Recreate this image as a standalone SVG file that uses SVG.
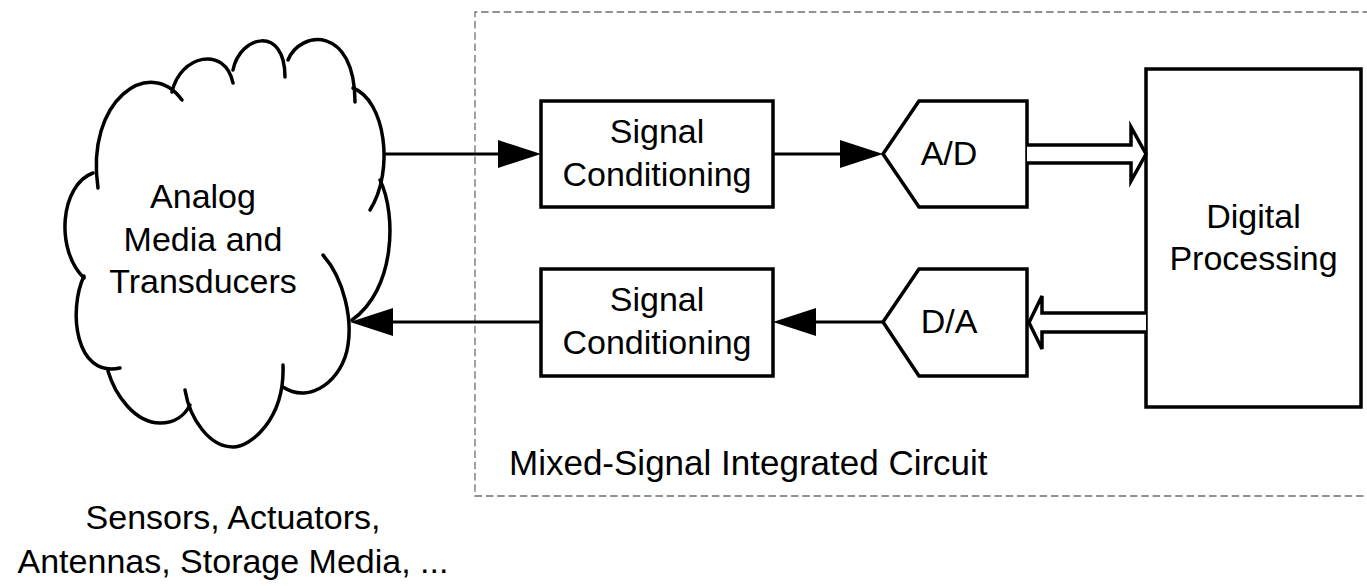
<svg xmlns="http://www.w3.org/2000/svg" width="1367" height="586" viewBox="0 0 1367 586">
  <style>
    .lbl { font-family: "Liberation Sans", Arial, sans-serif; font-size: 34px; fill: #000; }
    .mid { text-anchor: middle; }
    .box { fill: #fff; stroke: #000; stroke-width: 3.5; stroke-linejoin: miter; }
    .lobe { fill: none; stroke: #000; stroke-width: 3.5; stroke-linecap: round; }
    .wire { fill: none; stroke: #000; stroke-width: 3; }
    .bus { fill: #fff; stroke: #000; stroke-width: 3.5; stroke-linejoin: miter; }
    .frame { fill: none; stroke: #6e6e6e; stroke-width: 1.3; stroke-dasharray: 7.5 3.8; }
  </style>
  <defs>
    <!-- solid head; the wire stops at the base of the head -->
    <marker id="head" viewBox="0 0 43 28" refX="0" refY="14" markerWidth="43" markerHeight="28" markerUnits="userSpaceOnUse" orient="auto">
      <path d="M0,0 L43,14 L0,28 z" fill="#000"/>
    </marker>
  </defs>

  <rect width="1367" height="586" fill="#fff"/>

  <!-- chip boundary -->
  <g id="chip">
    <path class="frame" d="M1370 12 H475 V496 H1370"/>
    <text class="lbl" x="509" y="475" style="font-size:35px">Mixed-Signal Integrated Circuit</text>
  </g>

  <!-- cloud -->
  <g id="analog-media">
    <path class="lobe" d="M93 173 C60 185, 55 250, 84 278"/>
    <path class="lobe" d="M98 188 C85 100, 150 55, 182 100"/>
    <path class="lobe" d="M172 92 C180 55, 225 45, 233 83"/>
    <path class="lobe" d="M233 70 C240 35, 285 25, 285 77"/>
    <path class="lobe" d="M288 60 C300 30, 355 25, 355 102"/>
    <path class="lobe" d="M353 88 C385 100, 395 170, 370 210"/>
    <path class="lobe" d="M380 180 C397 215, 395 290, 352 320"/>
    <path class="lobe" d="M323 255 C345 280, 352 320, 348 345 C343 380, 310 405, 283 387"/>
    <path class="lobe" d="M283 365 C285 420, 250 447, 233 447 C210 447, 190 420, 185 390"/>
    <path class="lobe" d="M108 371 C115 395, 135 423, 160 423 C175 423, 185 415, 190 405"/>
    <path class="lobe" d="M84 276 C68 310, 75 378, 120 368"/>
    <text class="lbl mid" x="203" y="208">Analog</text>
    <text class="lbl mid" x="203" y="251">Media and</text>
    <text class="lbl mid" x="203" y="293">Transducers</text>
  </g>

  <g id="media-caption">
    <text class="lbl mid" x="233" y="529">Sensors, Actuators,</text>
    <text class="lbl mid" x="233" y="573">Antennas, Storage Media, ...</text>
  </g>

  <g id="sc-in">
    <rect class="box" x="541" y="101" width="232" height="106"/>
    <text class="lbl mid" x="657" y="143">Signal</text>
    <text class="lbl mid" x="657" y="186">Conditioning</text>
  </g>

  <g id="sc-out">
    <rect class="box" x="541" y="269" width="232" height="107"/>
    <text class="lbl mid" x="657" y="311">Signal</text>
    <text class="lbl mid" x="657" y="354">Conditioning</text>
  </g>

  <g id="adc">
    <polygon class="box" points="883,154 919,101 1027,101 1027,207 919,207"/>
    <text class="lbl mid" x="949" y="165">A/D</text>
  </g>

  <g id="dac">
    <polygon class="box" points="883,322 919,269 1027,269 1027,376 919,376"/>
    <text class="lbl mid" x="949" y="333">D/A</text>
  </g>

  <g id="dsp">
    <rect class="box" x="1146" y="69" width="215" height="338"/>
    <text class="lbl mid" x="1253.5" y="228">Digital</text>
    <text class="lbl mid" x="1253.5" y="270">Processing</text>
  </g>

  <!-- connectors -->
  <g id="connectors">
    <path class="wire" d="M384 154 H498" marker-end="url(#head)"/>
    <path class="wire" d="M773 154 H840" marker-end="url(#head)"/>
    <path class="wire" d="M883 322 H816" marker-end="url(#head)"/>
    <path class="wire" d="M541 322 H393" marker-end="url(#head)"/>
    <polyline class="bus" points="1027,145 1131,145 1131,127 1146,154 1131,181 1131,163 1027,163"/>
    <polyline class="bus" points="1146,313 1042,313 1042,296 1029,322.5 1042,349 1042,332 1146,332"/>
  </g>
</svg>
